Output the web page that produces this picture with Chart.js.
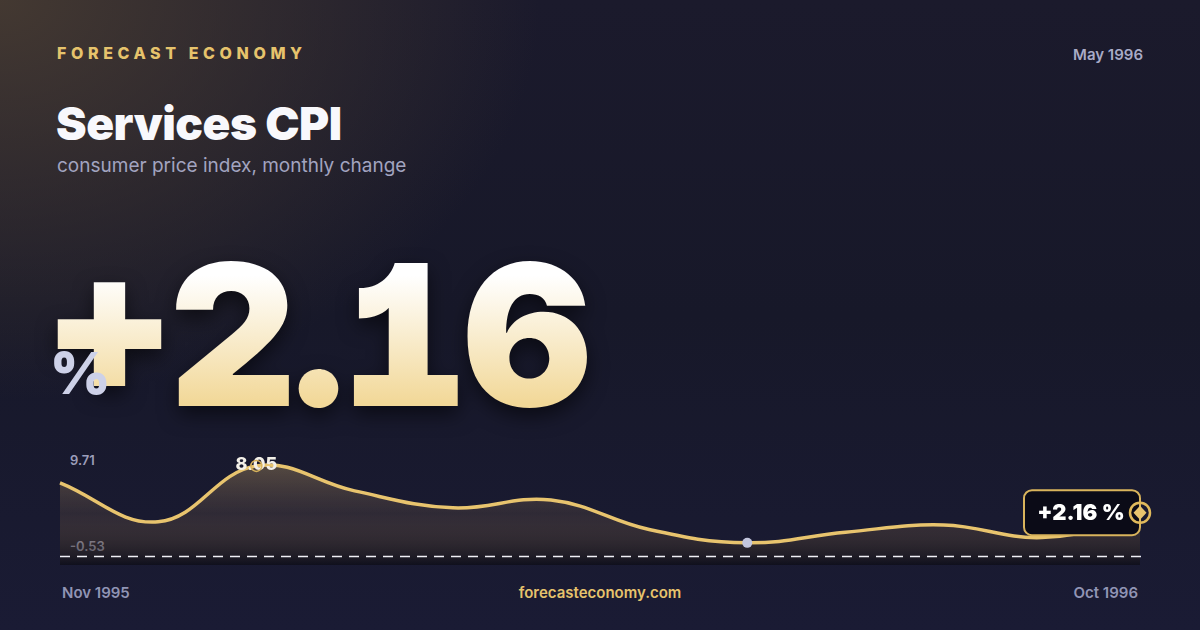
<!DOCTYPE html>
<html>
<head>
<meta charset="utf-8">
<script src="https://cdn.jsdelivr.net/npm/chart.js@4.4.1/dist/chart.umd.min.js"></script>
<style>
  html, body { margin: 0; padding: 0; }
  body {
    width: 1200px; height: 630px; overflow: hidden; position: relative;
    font-family: Inter, "Noto Sans", sans-serif;
    background:
      radial-gradient(ellipse 540px 400px at 0px 0px, rgba(72,60,50,0.9), rgba(72,60,50,0) 100%),
      linear-gradient(180deg, #1b1a2c 0%, #171829 50%, #1a1b34 100%);
  }
  .brand { position: absolute; left: 57px; top: 43px; font-size: 16px; font-weight: 800;
    letter-spacing: 4.6px; color: #e6c36c; }
  .date { position: absolute; right: 57px; top: 45px; font-size: 15px; font-weight: 600; color: #a9abc6; }
  .title { position: absolute; left: 56px; top: 100px; font-size: 46px; font-weight: 900;
    color: #f8f8fc; line-height: 1; letter-spacing: -0.5px; }
  .sub { position: absolute; left: 57px; top: 154px; font-size: 19px; color: #a2a4c0; }
  .big { position: absolute; left: 46px; top: 236px; font-size: 197px; font-weight: 900; line-height: 1;
    font-feature-settings: "case" 1, "tnum" 1, "ss02" 1, "cv01" 1; letter-spacing: -4px;
    background: linear-gradient(180deg, #ffffff 20%, #f2d898 85%);
    -webkit-background-clip: text; background-clip: text; color: transparent;
    filter: drop-shadow(0 8px 10px rgba(0,0,0,0.55)); }
  .pct { position: absolute; left: 50px; top: 344px; font-size: 58px; font-weight: 900; line-height: 1;
    color: #cdd1e8; }
  .ylab { position: absolute; left: 70px; font-size: 13px; font-weight: 600; color: #9c9eba; }
  .foot { position: absolute; top: 583px; font-size: 15px; font-weight: 600; color: #9195b5; }
  #wrap { position: absolute; left: 40px; top: 430px; width: 1130px; height: 140px; }
</style>
</head>
<body>
<div class="brand">FORECAST ECONOMY</div>
<div class="date">May 1996</div>
<div class="title">Services CPI</div>
<div class="sub">consumer price index, monthly change</div>
<div class="big">+2.16</div>
<div class="pct">%</div>
<div class="ylab" id="ymax" style="top:452px"></div>
<div class="ylab" id="ymin" style="top:538px"></div>
<div class="foot" id="first" style="left:62px"></div>
<div class="foot" style="left:0;width:1200px;text-align:center;color:#e6c36c">forecasteconomy.com</div>
<div class="foot" id="last" style="right:62px"></div>
<div id="wrap"><canvas id="chart"></canvas></div>

<script>
const months = ['Nov 1995', 'Dec 1995', 'Jan 1996', 'Feb 1996', 'Mar 1996', 'Apr 1996',
                'May 1996', 'Jun 1996', 'Jul 1996', 'Aug 1996', 'Sep 1996', 'Oct 1996'];
const values = [6.15, 1.81, 8.05, 5.26, 3.37, 4.25, 0.95, -0.53, 0.65, 1.47, 0.06, 2.16];
const yLabels = ['9.71', '-0.53'];
const peakIndex = 2;
const lowIndex = 7;
const baseline = -2.0;

document.getElementById('ymax').textContent = yLabels[0];
document.getElementById('ymin').textContent = yLabels[1];
document.getElementById('first').textContent = months[0];
document.getElementById('last').textContent = months[months.length - 1];

const gold = '#e8c46e';

// dashed baseline + point markers + last value callout
const markers = {
  id: 'markers',
  afterDatasetsDraw(chart) {
    const { ctx, chartArea, scales } = chart;
    const pts = chart.getDatasetMeta(0).data;
    ctx.save();

    const by = Math.round(scales.y.getPixelForValue(baseline)) + 0.5;
    ctx.strokeStyle = '#f0f0f6';
    ctx.lineWidth = 1.5;
    ctx.setLineDash([10, 7]);
    ctx.beginPath();
    ctx.moveTo(chartArea.left, by);
    ctx.lineTo(chartArea.right + 6, by);
    ctx.stroke();
    ctx.setLineDash([]);

    // peak label and ring
    const p = pts[peakIndex];
    ctx.font = '800 18px Inter, sans-serif';
    ctx.fillStyle = '#f3f0e8';
    ctx.textAlign = 'center';
    ctx.textBaseline = 'alphabetic';
    ctx.fillText(values[peakIndex].toFixed(2), p.x, p.y + 4);
    ctx.strokeStyle = '#d9b45c';
    ctx.lineWidth = 1.5;
    ctx.beginPath();
    ctx.arc(p.x, p.y, 5.5, 0, Math.PI * 2);
    ctx.stroke();

    // low point dot
    const l = pts[lowIndex];
    ctx.fillStyle = '#c3c6dd';
    ctx.beginPath();
    ctx.arc(l.x, l.y, 5, 0, Math.PI * 2);
    ctx.fill();

    // last point callout
    const e = pts[pts.length - 1];
    const cy = e.y - 6;
    const bw = 116, bh = 45;
    ctx.fillStyle = '#0b0b17';
    ctx.strokeStyle = '#d9b45c';
    ctx.lineWidth = 2;
    ctx.beginPath();
    ctx.roundRect(e.x - bw, cy - bh / 2, bw, bh, 8);
    ctx.fill();
    ctx.stroke();
    ctx.fillStyle = '#ffffff';
    ctx.font = '900 22px Inter, sans-serif';
    ctx.textBaseline = 'middle';
    ctx.fillText('+' + values[values.length - 1].toFixed(2) + ' %', e.x - bw / 2 - 1, cy + 1);

    ctx.strokeStyle = '#e0b95c';
    ctx.lineWidth = 2.5;
    ctx.beginPath();
    ctx.arc(e.x, e.y - 6, 10, 0, Math.PI * 2);
    ctx.stroke();
    ctx.fillStyle = gold;
    ctx.beginPath();
    ctx.moveTo(e.x, e.y - 13);
    ctx.lineTo(e.x + 6.5, e.y - 6);
    ctx.lineTo(e.x, e.y + 1);
    ctx.lineTo(e.x - 6.5, e.y - 6);
    ctx.closePath();
    ctx.fill();
    ctx.restore();
  }
};

new Chart(document.getElementById('chart'), {
  type: 'line',
  data: {
    labels: months,
    datasets: [{
      data: values,
      borderColor: gold,
      borderWidth: 3.5,
      tension: 0.4,
      pointRadius: 0,
      fill: 'start',
      backgroundColor: (c) => {
        const area = c.chart.chartArea;
        if (!area) return 'rgba(0,0,0,0)';
        const g = c.chart.ctx.createLinearGradient(0, area.top, 0, area.bottom);
        g.addColorStop(0, 'rgba(235,195,115,0.36)');
        g.addColorStop(0.55, 'rgba(160,125,85,0.17)');
        g.addColorStop(1, 'rgba(10,10,16,0.6)');
        return g;
      }
    }]
  },
  options: {
    responsive: true,
    maintainAspectRatio: false,
    animation: false,
    layout: { padding: { left: 20, right: 30, top: 21, bottom: 5 } },
    plugins: { legend: { display: false }, tooltip: { enabled: false } },
    scales: {
      x: { display: false },
      y: { display: false, min: -3.0, max: 9.71 }
    }
  },
  plugins: [markers]
});
</script>
</body>
</html>
